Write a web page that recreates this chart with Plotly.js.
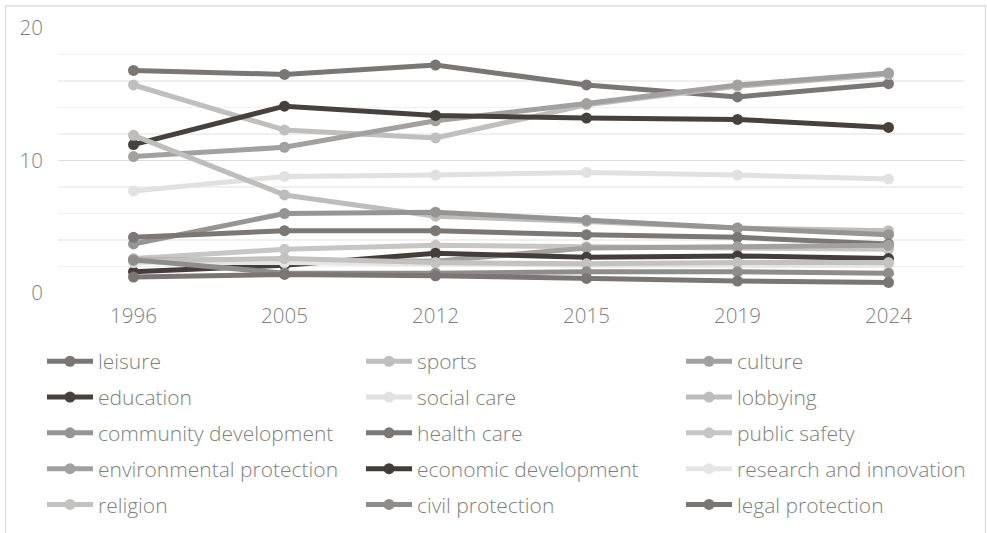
<!DOCTYPE html>
<html>
<head>
<meta charset="utf-8">
<script src="https://cdn.plot.ly/plotly-3.0.1.min.js"></script>
<style>
html,body{margin:0;padding:0;background:#fff;}
#chart{width:987px;height:533px;}
</style>
</head>
<body>
<div id="chart"></div>
<script>
// Data
const years = ["1996", "2005", "2012", "2015", "2019", "2024"];
const seriesNames = ["leisure", "sports", "culture", "education", "social care", "lobbying",
  "community development", "health care", "public safety", "environmental protection",
  "economic development", "research and innovation", "religion", "civil protection", "legal protection"];
const leisure = [16.8, 16.5, 17.2, 15.7, 14.8, 15.8];
const sports = [15.7, 12.3, 11.7, 14.2, 15.6, 16.5];
const culture = [10.3, 11.0, 13.0, 14.3, 15.7, 16.6];
const education = [11.2, 14.1, 13.4, 13.2, 13.1, 12.5];
const socialCare = [7.7, 8.8, 8.9, 9.1, 8.9, 8.6];
const lobbying = [11.9, 7.4, 5.8, 5.4, 4.9, 4.7];
const communityDevelopment = [3.7, 6.0, 6.1, 5.5, 4.9, 4.4];
const healthCare = [4.2, 4.7, 4.7, 4.4, 4.2, 3.7];
const publicSafety = [2.6, 3.3, 3.6, 3.5, 3.4, 3.3];
const environmentalProtection = [2.5, 2.5, 2.4, 3.4, 3.5, 3.6];
const economicDevelopment = [1.6, 2.1, 3.0, 2.7, 2.8, 2.6];
const researchInnovation = [2.3, 2.3, 2.2, 2.1, 2.1, 2.1];
const religion = [2.4, 2.6, 2.3, 2.2, 2.3, 2.3];
const civilProtection = [2.5, 1.5, 1.5, 1.6, 1.6, 1.5];
const legalProtection = [1.2, 1.4, 1.3, 1.1, 0.9, 0.8];

const seriesValues = [leisure, sports, culture, education, socialCare, lobbying,
  communityDevelopment, healthCare, publicSafety, environmentalProtection,
  economicDevelopment, researchInnovation, religion, civilProtection, legalProtection];
const seriesColors = ["#7a7674", "#c0bfbe", "#a3a19f", "#47413d", "#e2e1e0", "#bebdbc",
  "#979593", "#7b7775", "#c7c6c5", "#a3a19f", "#443d39", "#e6e5e4", "#c3c2c1", "#8f8d8b", "#7a7674"];
const legendIds = ["legend", "legend2", "legend3"];

const traces = seriesNames.map((name, i) => ({
  type: "scatter",
  mode: "lines+markers",
  name: name,
  x: years,
  y: seriesValues[i],
  line: {color: seriesColors[i], width: 5},
  marker: {color: seriesColors[i], size: 11},
  legend: legendIds[i % 3],
  legendgroup: "g" + i,
  cliponaxis: false
}));

const plotL = 58, plotR = 964, plotT = 27.7, plotB = 293.3;
const W = 987, H = 533;
const pw = plotR - plotL, ph = plotB - plotT;
const px = v => (v - plotL) / pw;
const py = v => (plotB - v) / ph;

const legendFont = {family: "Open Sans, sans-serif", size: 21, color: "#7f7f7f", weight: 300};
function makeLegend(xPix) {
  return {
    orientation: "v",
    xref: "paper", yref: "paper",
    x: px(xPix), xanchor: "left",
    y: py(341.5), yanchor: "top",
    itemwidth: 46,
    font: legendFont,
    bgcolor: "rgba(0,0,0,0)",
    borderwidth: 0,
    traceorder: "grouped",
    tracegroupgap: 5.5
  };
}

const layout = {
  width: W, height: H,
  margin: {l: plotL, r: W - plotR, t: plotT, b: H - plotB, pad: 0, autoexpand: false},
  paper_bgcolor: "#ffffff",
  plot_bgcolor: "#ffffff",
  font: {family: "Open Sans, sans-serif", color: "#7f7f7f", size: 20},
  showlegend: true,
  xaxis: {
    type: "category",
    range: [-0.5, 5.5],
    showgrid: false,
    zeroline: false,
    showline: false,
    ticks: "",
    tickangle: 0,
    tickfont: {size: 20.5, color: "#7f7f7f", weight: 300},
    ticklabelstandoff: 8,
    fixedrange: true
  },
  yaxis: {
    range: [0, 20],
    tickvals: [0, 10, 20],
    ticktext: ["0", "10", "20"],
    showgrid: true,
    gridcolor: "#dcdcdc",
    gridwidth: 1.5,
    zeroline: false,
    showline: false,
    ticks: "",
    ticklabelstandoff: 14,
    tickfont: {size: 20.5, color: "#7f7f7f", weight: 300},
    minor: {dtick: 2, tick0: 0, showgrid: true, gridcolor: "#f0f0f0", gridwidth: 1.5},
    fixedrange: true
  },
  legend: makeLegend(42),
  legend2: makeLegend(361),
  legend3: makeLegend(681),
  shapes: [{
    type: "rect", xref: "paper", yref: "paper",
    x0: px(5.5), x1: px(985.5), y0: py(560), y1: py(5.5),
    line: {color: "#d9d9d9", width: 1.2},
    fillcolor: "rgba(0,0,0,0)",
    layer: "below"
  }]
};

Plotly.newPlot("chart", traces, layout, {displayModeBar: false, staticPlot: true});
</script>
</body>
</html>
